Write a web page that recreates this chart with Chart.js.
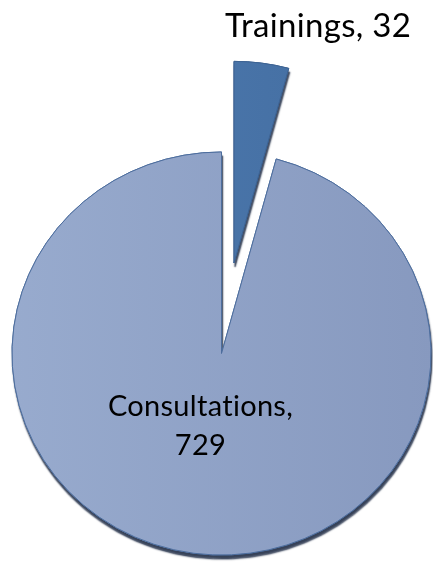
<!DOCTYPE html>
<html lang="en">
<head>
    <meta charset="UTF-8">
    <title>Trainings and Consultations</title>
    <script src="https://cdn.jsdelivr.net/npm/chart.js"></script>
    <style>
        body {
            margin: 0;
            background: #fff;
        }
        #pieChart {
            display: block;
        }
    </style>
</head>
<body>
    <canvas id="pieChart" width="433" height="564"></canvas>

    <script>
        // data
        const categories = ['Trainings', 'Consultations'];
        const counts = [32, 729];
        const explode = [95, 0];     // how far each slice is pulled out (px)

        const fillFrom = ['#4f7db3', '#98abce'];
        const fillTo = ['#426b9e', '#8799bf'];
        const edgeColors = ['#3d6393', '#4d6d9d'];

        const squashY = 0.962;       // slight tilt so the pie reads as a flat disc

        function sliceFill(context) {
            const chart = context.chart;
            const area = chart.chartArea;
            if (!area) return fillFrom[context.dataIndex];
            const g = chart.ctx.createLinearGradient(0, 0, chart.width, 0);
            g.addColorStop(0, fillFrom[context.dataIndex]);
            g.addColorStop(1, fillTo[context.dataIndex]);
            return g;
        }

        // pull slices outwards along their middle angle
        const explodePlugin = {
            id: 'explodeSlices',
            afterDatasetUpdate(chart, args) {
                const meta = chart.getDatasetMeta(args.index);
                meta.data.forEach(function (arc, i) {
                    const d = explode[i] || 0;
                    if (!d) return;
                    const mid = (arc.startAngle + arc.endAngle) / 2;
                    arc.x += Math.cos(mid) * d;
                    arc.y += Math.sin(mid) * d;
                });
            }
        };

        // squash vertically, and lay a shadow pass under the slices
        const discPlugin = {
            id: 'disc',
            beforeDatasetsDraw(chart) {
                const ctx = chart.ctx;
                const area = chart.chartArea;
                const cy = (area.top + area.bottom) / 2;
                ctx.save();
                ctx.translate(0, cy);
                ctx.scale(1, squashY);
                ctx.translate(0, -cy);

                ctx.save();
                ctx.shadowColor = 'rgba(44, 56, 80, 0.95)';
                ctx.shadowOffsetX = 1;
                ctx.shadowOffsetY = 4;
                ctx.shadowBlur = 1.5;
                chart.getDatasetMeta(0).data.forEach(function (arc) {
                    arc.draw(ctx);
                });
                ctx.restore();
            },
            afterDatasetsDraw(chart) {
                chart.ctx.restore();
            }
        };

        // category, value labels
        const labelPlugin = {
            id: 'sliceLabels',
            afterDraw(chart) {
                const ctx = chart.ctx;
                const arcs = chart.getDatasetMeta(0).data;
                const area = chart.chartArea;
                const cx = (area.left + area.right) / 2;
                const cy = (area.top + area.bottom) / 2;
                ctx.save();
                ctx.fillStyle = '#000';
                ctx.textAlign = 'center';
                ctx.textBaseline = 'alphabetic';
                ctx.letterSpacing = '0.3px';   // also keeps "ti" from joining

                // Trainings label sits above its pulled-out slice
                ctx.font = '33px Lato, "Open Sans", sans-serif';
                ctx.fillText(categories[0] + ', ' + counts[0], arcs[0].x + 84, 37);

                // Consultations label inside the big slice
                ctx.font = '29px Lato, "Open Sans", sans-serif';
                ctx.fillText(categories[1] + ',', cx - 21, cy + 62);
                ctx.fillText(String(counts[1]), cx - 21, cy + 101);
                ctx.restore();
            }
        };

        const ctx = document.getElementById('pieChart').getContext('2d');
        const chart = new Chart(ctx, {
            type: 'pie',
            data: {
                labels: categories,
                datasets: [{
                    data: counts,
                    backgroundColor: sliceFill,
                    borderColor: edgeColors,
                    borderWidth: 1,
                    clip: false
                }]
            },
            options: {
                responsive: false,
                animation: false,
                radius: 209.5,
                layout: {
                    padding: { left: 10, right: 0, top: 143, bottom: 0 }
                },
                plugins: {
                    legend: { display: false },
                    tooltip: { enabled: false }
                }
            },
            plugins: [explodePlugin, discPlugin, labelPlugin]
        });
    </script>
</body>
</html>
